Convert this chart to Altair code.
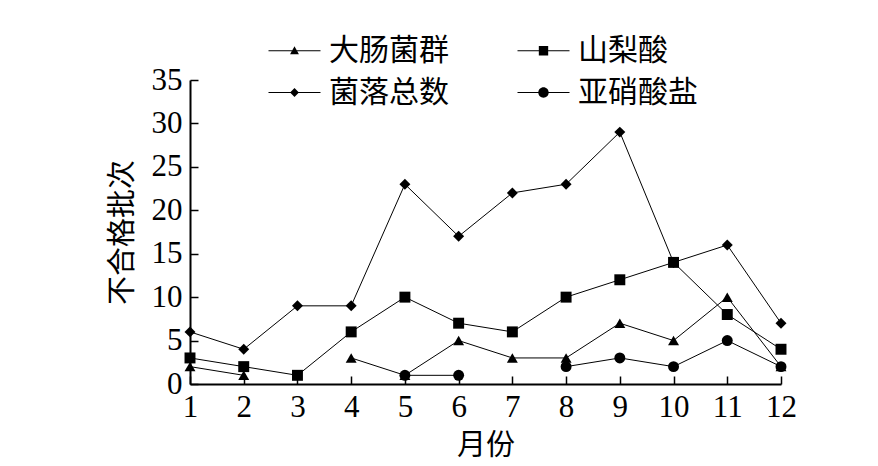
import altair as alt
import pandas as pd

months = list(range(1, 13))
series_names = ["大肠菌群", "山梨酸", "菌落总数", "亚硝酸盐"]
coliform = [2, 1, None, 3, 1, 5, 3, 3, 7, 5, 10, 2]
sorbic = [3, 2, 1, 6, 10, 7, 6, 10, 12, 14, 8, 4]
colony = [6, 4, 9, 9, 23, 17, 22, 23, 29, 14, 16, 7]
nitrite = [None, None, None, None, 1, 1, None, 2, 3, 2, 5, 2]
y_ticks = [0, 5, 10, 15, 20, 25, 30, 35]

rows = []
for name, vals in zip(series_names, [coliform, sorbic, colony, nitrite]):
    for m, v in zip(months, vals):
        rows.append({"month": m, "value": v, "series": name})
df = pd.DataFrame(rows)

W, H = 591, 304
NUM_FONT = "Liberation Serif"
CJK_FONT = "Noto Sans CJK SC"

xscale = alt.Scale(domain=[1, 12], nice=False, zero=False)
yscale = alt.Scale(domain=[0, 35], nice=False, zero=True)

base = alt.Chart(df)

lines = base.mark_line(color="black", strokeWidth=1, invalid="break-paths-show-domains").encode(
    x=alt.X("month:Q", scale=xscale,
            axis=alt.Axis(values=months, ticks=False, domain=True, domainWidth=2, domainColor="black",
                          labelPadding=8, labelFlush=False, labelOverlap=False, grid=False,
                          title="月份", titlePadding=9)),
    y=alt.Y("value:Q", scale=yscale,
            axis=alt.Axis(values=y_ticks, ticks=False, domain=True, domainWidth=2, domainColor="black",
                          labelPadding=8, labelFlush=False, labelOverlap=False, grid=False,
                          title="不合格批次", titlePadding=14)),
    detail="series:N",
)

points = base.mark_point(filled=True, color="black", opacity=1, size=120).encode(
    x=alt.X("month:Q", scale=xscale,
            axis=alt.Axis(orient="top", offset=-H, values=months, labels=False, domain=False,
                          ticks=True, tickSize=8, tickWidth=1.5, tickColor="black", grid=False, title=None)),
    y=alt.Y("value:Q", scale=yscale,
            axis=alt.Axis(orient="right", offset=-W, values=y_ticks, labels=False, domain=False,
                          ticks=True, tickSize=8, tickWidth=1.5, tickColor="black", grid=False, title=None)),
    shape=alt.Shape("series:N", scale=alt.Scale(domain=series_names,
                                                 range=["triangle-up", "square", "diamond", "circle"]),
                    legend=None),
)

# legend symbols: a thin bar (the line) plus the series marker
legend_paths = [
    "M-1,-0.02H1V0.02H-1ZM0,-0.17L0.17,0.13L-0.17,0.13Z",
    "M-1,-0.02H1V0.02H-1ZM-0.18,-0.18H0.18V0.18H-0.18Z",
    "M-1,-0.02H1V0.02H-1ZM0,-0.17L0.17,0L0,0.17L-0.17,0Z",
    "M-1,-0.02H1V0.02H-1ZM0.2,0A0.2,0.2 0 1,1 -0.2,0A0.2,0.2 0 1,1 0.2,0Z",
]

legend_layer = base.transform_filter("datum.month > 100").mark_point(
    filled=True, color="black", opacity=1, strokeWidth=1
).encode(
    shape=alt.Shape("series:N", scale=alt.Scale(domain=series_names, range=legend_paths),
                    legend=alt.Legend(orient="none", legendX=78, legendY=-56, columns=2,
                                      direction="horizontal",
                                      columnPadding=66, rowPadding=-14, title=None,
                                      labelFont=CJK_FONT, labelFontSize=30, labelColor="black",
                                      labelOffset=8, symbolSize=2704, symbolStrokeWidth=1,
                                      symbolFillColor="black", symbolStrokeColor="black")),
)

chart = alt.layer(lines, points, legend_layer).resolve_scale(
    shape="independent"
).resolve_axis(
    x="independent", y="independent"
).properties(
    width=W, height=H,
    autosize=alt.AutoSizeParams(type="none"),
    padding={"left": 182, "top": 72, "right": 89, "bottom": 80},
    background="white",
).configure_axis(
    labelFont=NUM_FONT, labelFontSize=31, labelColor="black",
    titleFont=CJK_FONT, titleFontSize=29, titleFontWeight="normal", titleColor="black",
).configure_view(strokeWidth=0)

chart.save("out.html", embed_options={"renderer": "svg", "actions": False})
